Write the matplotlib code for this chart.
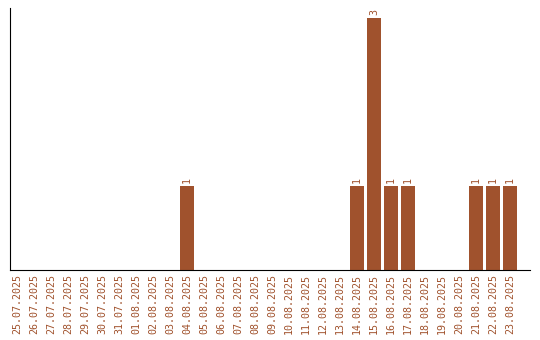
import matplotlib
matplotlib.use("Agg")
import matplotlib.pyplot as plt

dates = ["25.07.2025", "26.07.2025", "27.07.2025", "28.07.2025", "29.07.2025",
         "30.07.2025", "31.07.2025", "01.08.2025", "02.08.2025", "03.08.2025",
         "04.08.2025", "05.08.2025", "06.08.2025", "07.08.2025", "08.08.2025",
         "09.08.2025", "10.08.2025", "11.08.2025", "12.08.2025", "13.08.2025",
         "14.08.2025", "15.08.2025", "16.08.2025", "17.08.2025", "18.08.2025",
         "19.08.2025", "20.08.2025", "21.08.2025", "22.08.2025", "23.08.2025"]
counts = [0, 0, 0, 0, 0, 0, 0, 0, 0, 0,
          1, 0, 0, 0, 0, 0, 0, 0, 0, 0,
          1, 3, 1, 1, 0, 0, 0, 1, 1, 1]

color = "#A0522D"
plt.rcParams['font.family'] = ['DejaVu Sans Mono']

fig = plt.figure(figsize=(5.4, 3.4), dpi=100)
ax = fig.add_axes([10/540, 70/340, 520/540, 262/340])
x = list(range(len(dates)))
ax.bar(x, counts, width=0.8, color=color)
for xi, c in zip(x, counts):
    if c > 0:
        ax.text(xi, c + 0.03, str(c), rotation=90, ha='center', va='bottom',
                fontsize=7.2, color=color)
ax.set_xlim(-0.41, 29 + 1.18)
ax.set_ylim(0, 262/84)
ax.set_xticks(x)
ax.set_xticklabels(dates, rotation=90, fontsize=7.2, color=color)
ax.tick_params(axis='x', length=0, pad=3)
ax.set_yticks([])
ax.spines['top'].set_visible(False)
ax.spines['right'].set_visible(False)
fig.savefig("out.png", dpi=100)
